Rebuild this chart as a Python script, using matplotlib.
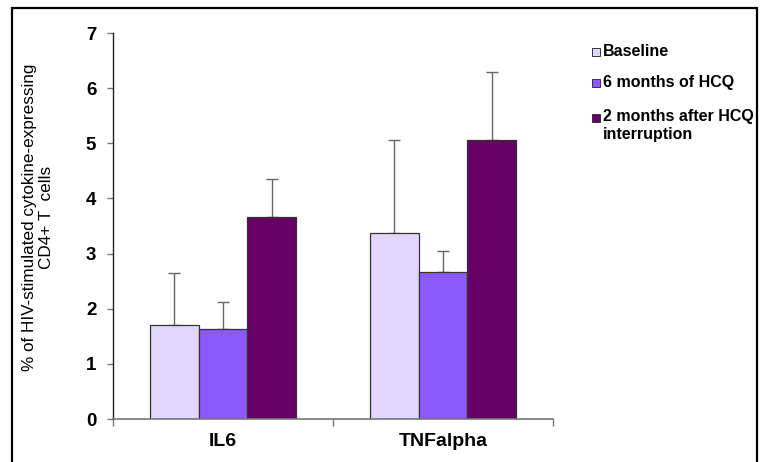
import matplotlib
matplotlib.use("Agg")
import matplotlib.pyplot as plt
from matplotlib.patches import Rectangle
import numpy as np

plt.rcParams['font.family'] = ['Liberation Sans', 'DejaVu Sans']

categories = ["IL6", "TNFalpha"]
series_names = ["Baseline", "6 months of HCQ", "2 months after HCQ\ninterruption"]
baseline = [1.71, 3.37]
hcq6 = [1.63, 2.66]
after2 = [3.67, 5.06]
err_baseline = [0.93, 1.69]
err_hcq6 = [0.50, 0.39]
err_after2 = [0.68, 1.24]
colors = ["#E2D5FF", "#8E58FF", "#660066"]
yticks = [0, 1, 2, 3, 4, 5, 6, 7]

fig = plt.figure(figsize=(7.6, 4.62), dpi=100)
ax = fig.add_axes([113/760, 1-419/462, 440/760, 386/462])

x = np.arange(len(categories))
w = 2/9
vals = [baseline, hcq6, after2]
errs = [err_baseline, err_hcq6, err_after2]
for i, (v, e, c) in enumerate(zip(vals, errs, colors)):
    pos = x + (i - 1) * w
    ax.bar(pos, v, width=w, color=c, edgecolor="#333333", linewidth=0.9, zorder=2)
    ax.errorbar(pos, v, yerr=[np.zeros(len(e)), e], fmt='none', ecolor="#666666",
                elinewidth=1.0, capsize=4.3, capthick=1.0, zorder=1)

ax.set_xlim(-0.5, 1.5)
ax.set_ylim(0, 7)
ax.set_yticks(yticks)
ax.set_yticklabels([str(t) for t in yticks], fontsize=13.5, fontweight='bold')
ax.set_xticks(x)
ax.set_xticklabels(categories, fontsize=14, fontweight='bold')
ax.tick_params(axis='x', length=0, pad=10)
ax.set_xticks([-0.5, 0.5, 1.5], minor=True)
ax.tick_params(axis='x', which='minor', length=5, direction='out', color="#777777", width=1)
ax.tick_params(axis='y', length=4, direction='out', color="#777777", width=1, pad=8)
for s in ['top', 'right']:
    ax.spines[s].set_visible(False)
ax.spines['left'].set_color('#222222')
ax.spines['left'].set_linewidth(1.0)
ax.spines['bottom'].set_color('#777777')
ax.spines['bottom'].set_linewidth(1.2)

fig.text(38/760, 1-217/462, "% of HIV-stimulated cytokine-expressing\nCD4+ T  cells",
         fontsize=12.3, rotation=90, ha='center', va='center', multialignment='center',
         linespacing=1.12)

# legend (manual)
leg_y = [52, 83, 118]
for name, c, yy in zip(series_names, colors, leg_y):
    fig.patches.append(Rectangle((592/760, 1-(yy+4)/462), 8/760, 8/462,
                                 transform=fig.transFigure, facecolor=c,
                                 edgecolor="#333333", linewidth=0.7))
    if '\n' in name:
        fig.text(603/760, 1-(yy-9)/462, name, fontsize=11.5, fontweight='bold', va='top',
                 ha='left', linespacing=1.25)
    else:
        fig.text(603/760, 1-yy/462, name, fontsize=11.5, fontweight='bold', va='center', ha='left')

# outer frame
fig.patches.append(Rectangle((12/760, -0.05), 745/760, 1.05 - 8/462, transform=fig.transFigure,
                             fill=False, edgecolor='black', linewidth=1.6))

fig.savefig("out.png", dpi=100)
